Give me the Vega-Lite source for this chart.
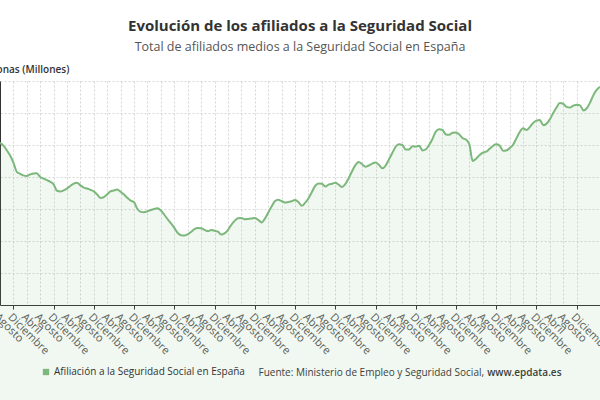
{
  "$schema": "https://vega.github.io/schema/vega-lite/v6.json",
  "width": 600,
  "height": 224,
  "autosize": {"type": "none"},
  "padding": {"left": 0, "right": 0, "top": 81, "bottom": 95},
  "background": "white",
  "config": {
    "view": {"stroke": null},
    "font": "Open Sans"
  },
  "title": {
    "text": "Evolución de los afiliados a la Seguridad Social",
    "subtitle": "Total de afiliados medios a la Seguridad Social en España",
    "anchor": "middle",
    "frame": "group",
    "font": "Open Sans",
    "fontSize": 15,
    "fontWeight": "bold",
    "color": "#333333",
    "subtitleFont": "Open Sans",
    "subtitleFontSize": 12.5,
    "subtitleColor": "#555555",
    "subtitlePadding": 7,
    "offset": 11
  },
  "data": {
    "values": [
      {"date": "2008/08/01", "v": 19.07}, {"date": "2008/09/01", "v": 18.98}, {"date": "2008/10/01", "v": 18.84}, {"date": "2008/11/01", "v": 18.67}, {"date": "2008/12/01", "v": 18.45},
      {"date": "2009/01/01", "v": 18.16}, {"date": "2009/02/01", "v": 18.10}, {"date": "2009/03/01", "v": 18.05}, {"date": "2009/04/01", "v": 18.03}, {"date": "2009/05/01", "v": 18.08}, {"date": "2009/06/01", "v": 18.11}, {"date": "2009/07/01", "v": 18.12}, {"date": "2009/08/01", "v": 18.00}, {"date": "2009/09/01", "v": 17.95}, {"date": "2009/10/01", "v": 17.90}, {"date": "2009/11/01", "v": 17.85}, {"date": "2009/12/01", "v": 17.77},
      {"date": "2010/01/01", "v": 17.57}, {"date": "2010/02/01", "v": 17.55}, {"date": "2010/03/01", "v": 17.58}, {"date": "2010/04/01", "v": 17.64}, {"date": "2010/05/01", "v": 17.72}, {"date": "2010/06/01", "v": 17.79}, {"date": "2010/07/01", "v": 17.82}, {"date": "2010/08/01", "v": 17.74}, {"date": "2010/09/01", "v": 17.67}, {"date": "2010/10/01", "v": 17.64}, {"date": "2010/11/01", "v": 17.60}, {"date": "2010/12/01", "v": 17.55},
      {"date": "2011/01/01", "v": 17.45}, {"date": "2011/02/01", "v": 17.34}, {"date": "2011/03/01", "v": 17.37}, {"date": "2011/04/01", "v": 17.46}, {"date": "2011/05/01", "v": 17.55}, {"date": "2011/06/01", "v": 17.58}, {"date": "2011/07/01", "v": 17.61}, {"date": "2011/08/01", "v": 17.54}, {"date": "2011/09/01", "v": 17.45}, {"date": "2011/10/01", "v": 17.35}, {"date": "2011/11/01", "v": 17.26}, {"date": "2011/12/01", "v": 17.21},
      {"date": "2012/01/01", "v": 17.00}, {"date": "2012/02/01", "v": 16.91}, {"date": "2012/03/01", "v": 16.90}, {"date": "2012/04/01", "v": 16.93}, {"date": "2012/05/01", "v": 16.97}, {"date": "2012/06/01", "v": 17.00}, {"date": "2012/07/01", "v": 17.02}, {"date": "2012/08/01", "v": 16.95}, {"date": "2012/09/01", "v": 16.82}, {"date": "2012/10/01", "v": 16.68}, {"date": "2012/11/01", "v": 16.55}, {"date": "2012/12/01", "v": 16.41},
      {"date": "2013/01/01", "v": 16.25}, {"date": "2013/02/01", "v": 16.18}, {"date": "2013/03/01", "v": 16.17}, {"date": "2013/04/01", "v": 16.21}, {"date": "2013/05/01", "v": 16.28}, {"date": "2013/06/01", "v": 16.37}, {"date": "2013/07/01", "v": 16.41}, {"date": "2013/08/01", "v": 16.40}, {"date": "2013/09/01", "v": 16.35}, {"date": "2013/10/01", "v": 16.31}, {"date": "2013/11/01", "v": 16.34}, {"date": "2013/12/01", "v": 16.32},
      {"date": "2014/01/01", "v": 16.29}, {"date": "2014/02/01", "v": 16.20}, {"date": "2014/03/01", "v": 16.24}, {"date": "2014/04/01", "v": 16.34}, {"date": "2014/05/01", "v": 16.50}, {"date": "2014/06/01", "v": 16.63}, {"date": "2014/07/01", "v": 16.71}, {"date": "2014/08/01", "v": 16.72}, {"date": "2014/09/01", "v": 16.68}, {"date": "2014/10/01", "v": 16.69}, {"date": "2014/11/01", "v": 16.70}, {"date": "2014/12/01", "v": 16.72},
      {"date": "2015/01/01", "v": 16.66}, {"date": "2015/02/01", "v": 16.58}, {"date": "2015/03/01", "v": 16.69}, {"date": "2015/04/01", "v": 16.88}, {"date": "2015/05/01", "v": 17.07}, {"date": "2015/06/01", "v": 17.24}, {"date": "2015/07/01", "v": 17.29}, {"date": "2015/08/01", "v": 17.25}, {"date": "2015/09/01", "v": 17.20}, {"date": "2015/10/01", "v": 17.22}, {"date": "2015/11/01", "v": 17.24}, {"date": "2015/12/01", "v": 17.28},
      {"date": "2016/01/01", "v": 17.22}, {"date": "2016/02/01", "v": 17.10}, {"date": "2016/03/01", "v": 17.19}, {"date": "2016/04/01", "v": 17.33}, {"date": "2016/05/01", "v": 17.52}, {"date": "2016/06/01", "v": 17.72}, {"date": "2016/07/01", "v": 17.80}, {"date": "2016/08/01", "v": 17.79}, {"date": "2016/09/01", "v": 17.70}, {"date": "2016/10/01", "v": 17.76}, {"date": "2016/11/01", "v": 17.79}, {"date": "2016/12/01", "v": 17.82},
      {"date": "2017/01/01", "v": 17.76}, {"date": "2017/02/01", "v": 17.69}, {"date": "2017/03/01", "v": 17.78}, {"date": "2017/04/01", "v": 17.96}, {"date": "2017/05/01", "v": 18.17}, {"date": "2017/06/01", "v": 18.37}, {"date": "2017/07/01", "v": 18.47}, {"date": "2017/08/01", "v": 18.40}, {"date": "2017/09/01", "v": 18.32}, {"date": "2017/10/01", "v": 18.36}, {"date": "2017/11/01", "v": 18.42}, {"date": "2017/12/01", "v": 18.45},
      {"date": "2018/01/01", "v": 18.38}, {"date": "2018/02/01", "v": 18.27}, {"date": "2018/03/01", "v": 18.35}, {"date": "2018/04/01", "v": 18.54}, {"date": "2018/05/01", "v": 18.74}, {"date": "2018/06/01", "v": 18.94}, {"date": "2018/07/01", "v": 19.02}, {"date": "2018/08/01", "v": 19.00}, {"date": "2018/09/01", "v": 18.86}, {"date": "2018/10/01", "v": 18.86}, {"date": "2018/11/01", "v": 18.96}, {"date": "2018/12/01", "v": 18.95},
      {"date": "2019/01/01", "v": 18.98}, {"date": "2019/02/01", "v": 18.83}, {"date": "2019/03/01", "v": 18.86}, {"date": "2019/04/01", "v": 19.00}, {"date": "2019/05/01", "v": 19.18}, {"date": "2019/06/01", "v": 19.42}, {"date": "2019/07/01", "v": 19.49}, {"date": "2019/08/01", "v": 19.47}, {"date": "2019/09/01", "v": 19.33}, {"date": "2019/10/01", "v": 19.32}, {"date": "2019/11/01", "v": 19.38}, {"date": "2019/12/01", "v": 19.39},
      {"date": "2020/01/01", "v": 19.33}, {"date": "2020/02/01", "v": 19.21}, {"date": "2020/03/01", "v": 19.17}, {"date": "2020/04/01", "v": 19.02}, {"date": "2020/05/01", "v": 18.50}, {"date": "2020/06/01", "v": 18.57}, {"date": "2020/07/01", "v": 18.68}, {"date": "2020/08/01", "v": 18.76}, {"date": "2020/09/01", "v": 18.79}, {"date": "2020/10/01", "v": 18.88}, {"date": "2020/11/01", "v": 18.97}, {"date": "2020/12/01", "v": 19.02},
      {"date": "2021/01/01", "v": 18.98}, {"date": "2021/02/01", "v": 18.82}, {"date": "2021/03/01", "v": 18.83}, {"date": "2021/04/01", "v": 18.90}, {"date": "2021/05/01", "v": 19.00}, {"date": "2021/06/01", "v": 19.20}, {"date": "2021/07/01", "v": 19.40}, {"date": "2021/08/01", "v": 19.52}, {"date": "2021/09/01", "v": 19.47}, {"date": "2021/10/01", "v": 19.56}, {"date": "2021/11/01", "v": 19.69}, {"date": "2021/12/01", "v": 19.76},
      {"date": "2022/01/01", "v": 19.78}, {"date": "2022/02/01", "v": 19.62}, {"date": "2022/03/01", "v": 19.66}, {"date": "2022/04/01", "v": 19.80}, {"date": "2022/05/01", "v": 19.99}, {"date": "2022/06/01", "v": 20.17}, {"date": "2022/07/01", "v": 20.31}, {"date": "2022/08/01", "v": 20.29}, {"date": "2022/09/01", "v": 20.19}, {"date": "2022/10/01", "v": 20.17}, {"date": "2022/11/01", "v": 20.23}, {"date": "2022/12/01", "v": 20.26},
      {"date": "2023/01/01", "v": 20.24}, {"date": "2023/02/01", "v": 20.08}, {"date": "2023/03/01", "v": 20.14}, {"date": "2023/04/01", "v": 20.32}, {"date": "2023/05/01", "v": 20.55}, {"date": "2023/06/01", "v": 20.72}, {"date": "2023/07/01", "v": 20.82}
    ]
  },
  "encoding": {
    "x": {
      "field": "date",
      "type": "temporal",
      "scale": {"domain": [{"year": 2008, "month": 8, "date": 1}, {"year": 2023, "month": 7, "date": 1}]},
      "axis": {
        "values": [
          {"year": 2008, "month": 8, "date": 1}, {"year": 2008, "month": 12, "date": 1},
          {"year": 2009, "month": 4, "date": 1}, {"year": 2009, "month": 8, "date": 1}, {"year": 2009, "month": 12, "date": 1},
          {"year": 2010, "month": 4, "date": 1}, {"year": 2010, "month": 8, "date": 1}, {"year": 2010, "month": 12, "date": 1},
          {"year": 2011, "month": 4, "date": 1}, {"year": 2011, "month": 8, "date": 1}, {"year": 2011, "month": 12, "date": 1},
          {"year": 2012, "month": 4, "date": 1}, {"year": 2012, "month": 8, "date": 1}, {"year": 2012, "month": 12, "date": 1},
          {"year": 2013, "month": 4, "date": 1}, {"year": 2013, "month": 8, "date": 1}, {"year": 2013, "month": 12, "date": 1},
          {"year": 2014, "month": 4, "date": 1}, {"year": 2014, "month": 8, "date": 1}, {"year": 2014, "month": 12, "date": 1},
          {"year": 2015, "month": 4, "date": 1}, {"year": 2015, "month": 8, "date": 1}, {"year": 2015, "month": 12, "date": 1},
          {"year": 2016, "month": 4, "date": 1}, {"year": 2016, "month": 8, "date": 1}, {"year": 2016, "month": 12, "date": 1},
          {"year": 2017, "month": 4, "date": 1}, {"year": 2017, "month": 8, "date": 1}, {"year": 2017, "month": 12, "date": 1},
          {"year": 2018, "month": 4, "date": 1}, {"year": 2018, "month": 8, "date": 1}, {"year": 2018, "month": 12, "date": 1},
          {"year": 2019, "month": 4, "date": 1}, {"year": 2019, "month": 8, "date": 1}, {"year": 2019, "month": 12, "date": 1},
          {"year": 2020, "month": 4, "date": 1}, {"year": 2020, "month": 8, "date": 1}, {"year": 2020, "month": 12, "date": 1},
          {"year": 2021, "month": 4, "date": 1}, {"year": 2021, "month": 8, "date": 1}, {"year": 2021, "month": 12, "date": 1},
          {"year": 2022, "month": 4, "date": 1}, {"year": 2022, "month": 8, "date": 1}, {"year": 2022, "month": 12, "date": 1}
        ],
        "labelExpr": "['Enero','Febrero','Marzo','Abril','Mayo','Junio','Julio','Agosto','Septiembre','Octubre','Noviembre','Diciembre'][month(datum.value)]",
        "labelAngle": 45,
        "labelOverlap": false,
        "labelBound": false,
        "labelFlush": false,
        "labelFont": "Open Sans",
        "labelFontSize": 11,
        "labelColor": "#555555",
        "labelPadding": 2,
        "grid": true,
        "gridColor": "#d6d6d6",
        "gridDash": [2, 2],
        "domain": true,
        "domainColor": "#333333",
        "domainWidth": 1,
        "ticks": true,
        "tickSize": 4,
        "tickColor": "#333333",
        "tickOpacity": {"condition": {"test": "month(datum.value) == 11", "value": 1}, "value": 0},
        "title": "Fuente: Ministerio de Empleo y Seguridad Social,",
        "titleFont": "Open Sans",
        "titleFontSize": 10,
        "titleFontWeight": "normal",
        "titleColor": "#333333",
        "titleAlign": "left",
        "titleAnchor": "start",
        "titleBaseline": "middle",
        "titleX": 258,
        "titleY": 67.5
      }
    }
  },
  "layer": [
    {
      "mark": {"type": "area", "color": "#7cb87b", "fillOpacity": 0.11, "interpolate": "monotone"},
      "encoding": {
        "y": {
          "field": "v",
          "type": "quantitative",
          "scale": {"domain": [14, 21], "nice": false, "zero": false},
          "axis": {
            "orient": "left",
            "values": [14, 15, 16, 17, 18, 19, 20, 21],
            "grid": true,
            "gridColor": "#d6d6d6",
            "gridDash": [2, 2],
            "domain": true,
            "domainColor": "#333333",
            "ticks": false,
            "labelFont": "Open Sans",
            "labelFontSize": 11,
            "labelColor": "#666666",
            "title": "Personas (Millones)",
            "titleAngle": 0,
            "titleFont": "Open Sans",
            "titleFontSize": 10,
            "titleFontWeight": 600,
            "titleColor": "#333333",
            "titleAlign": "left",
            "titleBaseline": "middle",
            "titleX": -25,
            "titleY": -12
          }
        }
      }
    },
    {
      "mark": {"type": "line", "strokeWidth": 2, "interpolate": "monotone"},
      "encoding": {
        "y": {
          "field": "v",
          "type": "quantitative",
          "scale": {"domain": [14, 21], "nice": false, "zero": false},
          "axis": {
            "orient": "right",
            "labels": false,
            "ticks": false,
            "domain": false,
            "grid": false,
            "title": "www.epdata.es",
            "titleAngle": 0,
            "titleFont": "Open Sans",
            "titleFontSize": 10,
            "titleFontWeight": 600,
            "titleColor": "#333333",
            "titleAlign": "right",
            "titleBaseline": "middle",
            "titleX": -39,
            "titleY": 291.5
          }
        },
        "color": {
          "datum": "Afiliación a la Seguridad Social en España",
          "scale": {"range": ["#7cb87b"]},
          "legend": {
            "orient": "none",
            "legendX": 41,
            "legendY": 286,
            "title": null,
            "padding": 0,
            "symbolType": "square",
            "symbolSize": 40,
            "symbolFillColor": "#7cb87b",
            "symbolStrokeWidth": 0,
            "labelFont": "Open Sans",
            "labelFontSize": 10,
            "labelColor": "#333333",
            "labelOffset": 3,
            "labelLimit": 400,
            "encode": {"symbols": {"update": {"fill": {"value": "#7cb87b"}, "stroke": {"value": "#7cb87b"}, "strokeWidth": {"value": 0}}}}
          }
        }
      }
    }
  ],
  "resolve": {"scale": {"y": "independent"}, "axis": {"y": "independent"}}
}
